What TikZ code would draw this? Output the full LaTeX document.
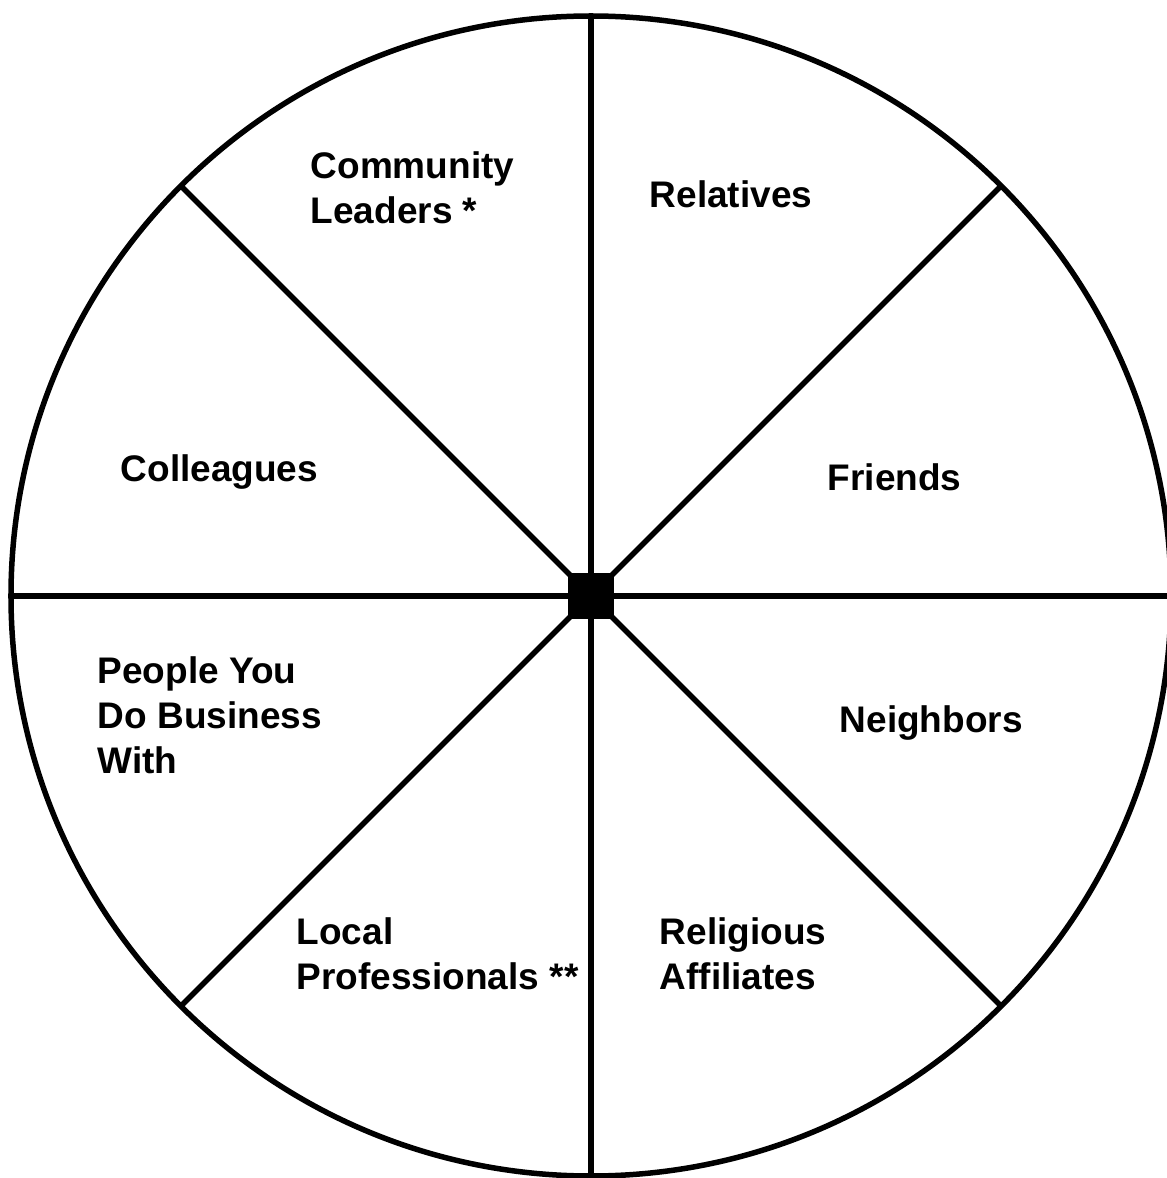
\documentclass[tikz,border=0pt]{standalone}
\usepackage{fontspec}
\setmainfont{Liberation Sans}
\usepackage{tikz}

\begin{document}
\begin{tikzpicture}[x=1pt,y=1pt,line width=5.5pt,rim/.style={circle,draw,minimum size=1160pt,inner sep=0pt,outer sep=0pt},hub/.style={rectangle,fill=black,minimum size=46pt,inner sep=0pt,outer sep=0pt},lbl/.style={anchor=base west,align=left,inner sep=0pt,font=\bfseries\fontsize{37}{45}\selectfont}]
\useasboundingbox (-591,-582) rectangle (576,596);
\coordinate (c) at (0,0);
\node[rim](rim) at(c) {};
\foreach \a in %
{0,45,...,315} {
   \draw (c) -- (rim.\a);
}
\node[hub](hub) at(c) {};
   \node[lbl](n0) at(-283,372) {Community\\Leaders *};
   \node[lbl](n1) at(56,388) {Relatives};
   \node[lbl](n2) at(-473,114) {Colleagues};
   \node[lbl](n3) at(234,105) {Friends};
   \node[lbl](n4) at(-496,-177) {People You\\Do Business\\With};
   \node[lbl](n5) at(246,-136) {Neighbors};
   \node[lbl](n6) at(-297,-393) {Local\\Professionals **};
   \node[lbl](n7) at(66,-393) {Religious\\Affiliates};
\end{tikzpicture}
\end{document}
